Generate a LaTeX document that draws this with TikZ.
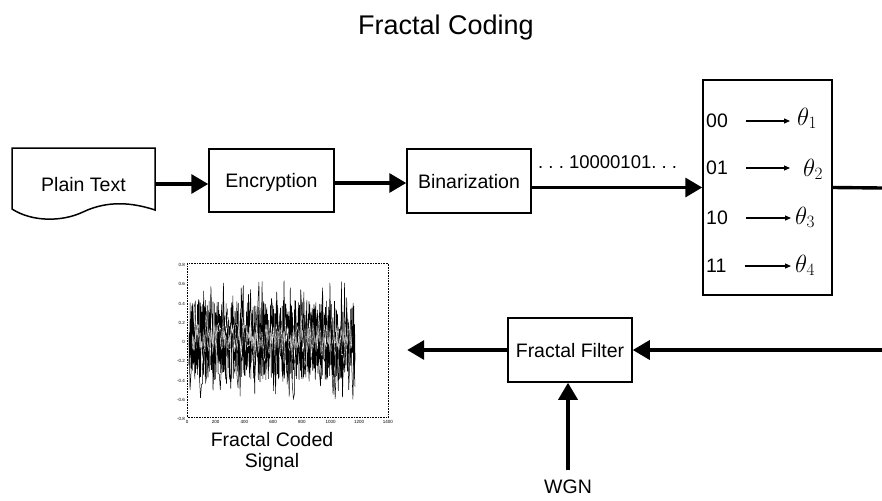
\documentclass[tikz,border=0pt]{standalone}
\usepackage{fontspec}
\setmainfont{Liberation Sans}
\usetikzlibrary{arrows.meta}
\begin{document}
\begin{tikzpicture}[x=1pt,y=-1pt,
  txt/.style={font=\fontsize{19.5}{22}\selectfont, inner sep=0pt},
  box/.style={txt, draw, line width=1.5pt, text height=14pt, text depth=0pt},
  flow/.style={line width=3.4pt, -{Triangle[length=17pt,width=19pt]}},
  link/.style={line width=3.4pt},
  small/.style={line width=1.2pt, shorten <=18pt, -{Triangle[length=6pt,width=5pt]}},
  theta/.style={font=\fontsize{25}{27}\selectfont, inner sep=0pt, anchor=base west},
  tick/.style={font=\fontsize{4.5}{5}\selectfont, inner sep=0pt}
]
\useasboundingbox (0,0) rectangle (882,500);

% title
\node[anchor=base, font=\fontsize{27}{30}\selectfont] (title) at (446,35) {Fractal Coding};

% plain text document
\node[txt, minimum width=143pt, minimum height=72pt, text height=14pt, text depth=0pt] (plain) at (83.5,184) {Plain Text};
\draw[line width=1.5pt] (12,209) -- (12,148) -- (155,148) -- (155,210)
  .. controls (125,200) and (102,203) .. (83,212)
  .. controls (62,222) and (32,222) .. cycle;

% upper chain
\node[box, minimum width=125pt, minimum height=63pt] (enc) at (271.5,180.5) {Encryption};
\node[box, minimum width=124pt, minimum height=64pt] (bin) at (469,181) {Binarization};
\node[box, minimum width=129pt, minimum height=215pt] (map) at (767.5,187.5) {};

\draw[flow] (plain.east) -- (plain.east -| enc.west);
\draw[flow] ([yshift=-2.5pt]enc.east) -- ([yshift=-2.5pt]enc.east -| bin.west);
\draw[flow] (bin.east |- map.west) -- (map.west);
\node[txt, anchor=base west, font=\fontsize{18.5}{21}\selectfont] (bits) at (538,168) {.\ .\ .\ 10000101.\ .\ .};

% symbol mapping table
\node[txt, anchor=west] (k1) at (706,121) {00};
\node[txt, anchor=west] (k2) at (706,168) {01};
\node[txt, anchor=west] (k3) at (706,218) {10};
\node[txt, anchor=west] (k4) at (706,266) {11};
\node[theta] (t1) at (797,125) {$\theta_1$};
\node[theta] (t2) at (803,176) {$\theta_2$};
\node[theta] (t3) at (795,224) {$\theta_3$};
\node[theta] (t4) at (795,272) {$\theta_4$};
\draw[small, shorten >=7pt] (k1.east) -- (k1.east -| t1.west);
\draw[small, shorten >=13pt] (k2.east) -- (k2.east -| t2.west);
\draw[small, shorten >=4pt] (k3.east) -- (k3.east -| t3.west);
\draw[small, shorten >=4pt] (k4.east) -- (k4.east -| t4.west);

\coordinate (out1) at (882,188);
\draw[link] (map.east) -- (out1);

% lower chain
\node[box, minimum width=124pt, minimum height=64pt] (ff) at (570,350) {Fractal Filter};
\coordinate (in2) at (882,350);
\draw[flow] (in2) -- (ff.east);

\node[txt, anchor=base] (wgn) at (568,493) {WGN};
\draw[flow] ([yshift=9pt]wgn.north) -- (wgn.north |- ff.south);

% coded signal plot
\node[minimum width=201pt, minimum height=154pt, inner sep=0pt] (sig) at (287.5,340) {};
\draw[flow, shorten >=19pt] (ff.west) -- (ff.west -| sig.east);

\draw[densely dotted, line width=0.6pt] (sig.north west) rectangle (sig.south east);
\foreach \v [count=\i from 0] in {0.8,0.6,0.4,0.2,0,-0.2,-0.4,-0.6,-0.8}
  \node[tick, anchor=east] at (185,{265+19.25*\i}) {\v};
\foreach \v [count=\i from 1] in {200,400,600,800,1000,1200,1400}
  \node[tick, anchor=north] at ({187+28.7*\i},420) {\v};
\node[tick, anchor=north] at (187,420) {0};

\pgfmathsetseed{4242}
\draw[line width=0.6pt] plot[domain=189:355, samples=900] (\x, {340+40*rand});
\draw[line width=0.5pt] plot[domain=189:355, samples=160] (\x, {340+60*rand});
\draw[gray!60, line width=0.35pt] plot[domain=192:352, samples=300] (\x, {338+14*rand});
\draw[white, line width=0.3pt] plot[domain=192:352, samples=140] (\x, {340+26*rand});

\node[txt, align=center, anchor=north, font=\fontsize{19.5}{21}\selectfont] (cap) at (272,432) {Fractal Coded\\Signal};
\end{tikzpicture}
\end{document}
